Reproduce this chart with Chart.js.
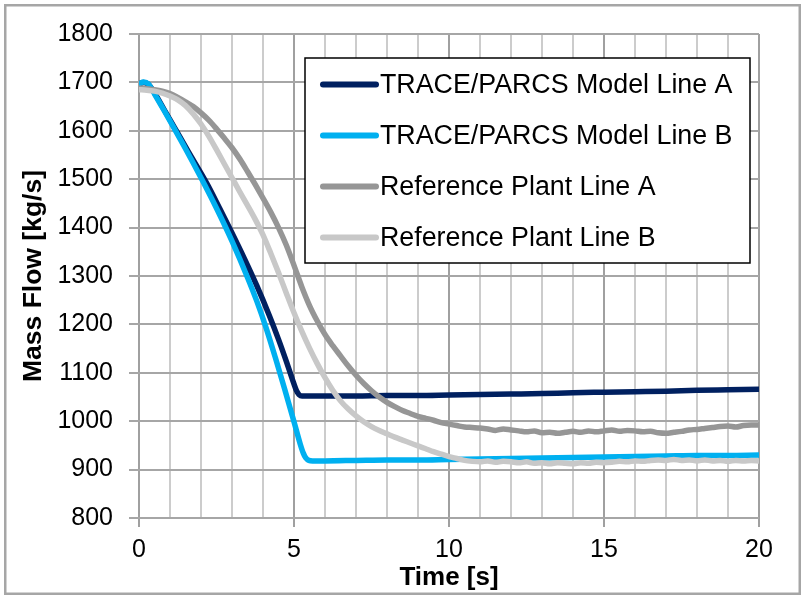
<!DOCTYPE html>
<html>
<head>
<meta charset="utf-8">
<script src="https://cdn.jsdelivr.net/npm/chart.js@4.4.1/dist/chart.umd.min.js"></script>
<style>
  html, body { margin: 0; padding: 0; background: #ffffff; }
  canvas { display: block; }
</style>
</head>
<body>
<canvas id="flowChart" width="807" height="598" style="width:807px;height:598px"></canvas>
<script>
// Series labels (legend order)
const seriesNames = [
  'TRACE/PARCS Model Line A',
  'TRACE/PARCS Model Line B',
  'Reference Plant Line A',
  'Reference Plant Line B'
];

// Axis labels
const xTitle = 'Time [s]';
const yTitle = 'Mass Flow [kg/s]';
const xLabelTicks = [0, 5, 10, 15, 20];

// TRACE/PARCS model, line A
const modelATime = [0, 0.15, 0.3, 0.52, 0.8, 1.15, 1.6, 2.2, 2.6, 3.0, 3.4, 3.8, 4.2, 4.5, 4.75, 4.95, 5.08, 5.16, 5.26, 5.4,
  6, 7, 8, 9, 10, 11, 12, 13, 14, 15, 16, 17, 18, 19, 20];
const modelAFlow = [1697, 1700, 1696, 1676, 1645, 1606, 1556, 1490, 1440, 1389, 1336, 1280, 1219, 1169, 1124, 1086, 1063, 1055, 1052, 1052,
  1052, 1052, 1053, 1053, 1054, 1055, 1056, 1057, 1059, 1060, 1061, 1062, 1064, 1065, 1066];

// TRACE/PARCS model, line B
const modelBTime = [0, 0.15, 0.3, 0.52, 0.8, 1.1, 1.5, 2.0, 2.5, 3.0, 3.5, 3.8, 4.1, 4.4, 4.7, 5.0, 5.2, 5.3, 5.38, 5.48, 5.6,
  6, 7, 8, 9, 10, 11, 12, 13, 14, 15, 16, 17, 18, 19, 20];
const modelBFlow = [1697, 1701, 1697, 1674, 1643, 1609, 1563, 1503, 1440, 1372, 1297, 1248, 1193, 1131, 1066, 999, 953, 934, 924, 919, 918,
  918, 919, 920, 920, 921, 922, 923, 924, 925, 926, 927, 928, 929, 929, 930];

// Reference plant measurements, sampled every 0.25 s
const plantTime = [0, 0.25, 0.5, 0.75, 1, 1.25, 1.5, 1.75, 2, 2.25, 2.5, 2.75, 3, 3.25, 3.5, 3.75, 4, 4.25, 4.5, 4.75,
  5, 5.25, 5.5, 5.75, 6, 6.25, 6.5, 6.75, 7, 7.25, 7.5, 7.75, 8, 8.25, 8.5, 8.75, 9, 9.25, 9.5, 9.75,
  10, 10.25, 10.5, 10.75, 11, 11.25, 11.5, 11.75, 12, 12.25, 12.5, 12.75, 13, 13.25, 13.5, 13.75, 14, 14.25, 14.5, 14.75,
  15, 15.25, 15.5, 15.75, 16, 16.25, 16.5, 16.75, 17, 17.25, 17.5, 17.75, 18, 18.25, 18.5, 18.75, 19, 19.25, 19.5, 19.75, 20];

const plantAFlow = [1688, 1687, 1685, 1682, 1677, 1669, 1660, 1650, 1637, 1622, 1604, 1585, 1565, 1542, 1516, 1489, 1461, 1432, 1400, 1364,
  1322, 1278, 1239, 1207, 1179, 1156, 1135, 1114, 1095, 1078, 1063, 1050, 1039, 1030, 1022, 1016, 1010, 1006, 1002, 997,
  994, 991, 988, 987, 986, 984, 981, 984, 982, 980, 978, 980, 976, 977, 975, 977, 979, 977, 980, 978,
  980, 982, 979, 981, 980, 978, 979, 976, 975, 977, 979, 982, 983, 985, 987, 989, 990, 988, 991, 992, 992];

const plantBFlow = [1685, 1684, 1682, 1678, 1672, 1664, 1652, 1635, 1614, 1589, 1561, 1532, 1503, 1474, 1446, 1417, 1385, 1347, 1307, 1265,
  1224, 1186, 1151, 1119, 1090, 1064, 1042, 1025, 1011, 999, 989, 981, 974, 967, 961, 955, 949, 943, 937, 932,
  927, 923, 919, 917, 916, 918, 915, 917, 916, 914, 916, 913, 914, 912, 914, 913, 912, 914, 913, 915,
  914, 915, 917, 916, 918, 917, 919, 920, 919, 921, 919, 920, 918, 920, 918, 919, 917, 919, 918, 919, 918];

const seriesColors = ['#002060', '#00B0F0', '#969696', '#C8C8C8'];

function toPoints(xs, ys) {
  return xs.map((x, i) => ({ x: x, y: ys[i] }));
}

const FONT = '"Liberation Sans", Arial, sans-serif';

// White page with a grey frame around the whole chart
const framePlugin = {
  id: 'frame',
  beforeDraw(chart) {
    const ctx = chart.ctx;
    ctx.save();
    ctx.fillStyle = '#ffffff';
    ctx.fillRect(0, 0, chart.width, chart.height);
    ctx.strokeStyle = '#a6a6a6';
    ctx.lineWidth = 2.5;
    ctx.strokeRect(5.25, 5.25, 794.5, 588.5);
    ctx.restore();
  }
};

// Boxed legend inside the plot area
const boxLegendPlugin = {
  id: 'boxLegend',
  afterDraw(chart) {
    const ctx = chart.ctx;
    const box = { x: 305, y: 58, w: 445, h: 205 };
    ctx.save();
    ctx.fillStyle = '#ffffff';
    ctx.fillRect(box.x, box.y, box.w, box.h);
    ctx.strokeStyle = '#000000';
    ctx.lineWidth = 1.5;
    ctx.strokeRect(box.x, box.y, box.w, box.h);
    ctx.font = '26.8px ' + FONT;
    ctx.textBaseline = 'middle';
    ctx.textAlign = 'left';
    chart.data.datasets.forEach((ds, i) => {
      const cy = 84.5 + i * 51;
      ctx.strokeStyle = ds.borderColor;
      ctx.lineWidth = 6;
      ctx.lineCap = 'round';
      ctx.beginPath();
      ctx.moveTo(323, cy);
      ctx.lineTo(376, cy);
      ctx.stroke();
      ctx.fillStyle = '#000000';
      ctx.fillText(ds.label, 380, cy + 1);
    });
    ctx.restore();
  }
};

const seriesData = [
  toPoints(modelATime, modelAFlow),
  toPoints(modelBTime, modelBFlow),
  toPoints(plantTime, plantAFlow),
  toPoints(plantTime, plantBFlow)
];

const datasets = seriesNames.map((name, i) => ({
  label: name,
  data: seriesData[i],
  borderColor: seriesColors[i],
  backgroundColor: seriesColors[i],
  borderWidth: 5.5,
  pointRadius: 0,
  fill: false,
  cubicInterpolationMode: 'monotone',
  borderCapStyle: 'round',
  borderJoinStyle: 'round',
  order: seriesNames.length - i
}));

const isMajor = (ctx) => ctx.tick && xLabelTicks.includes(ctx.tick.value);

new Chart(document.getElementById('flowChart'), {
  type: 'line',
  data: { datasets: datasets },
  plugins: [framePlugin, boxLegendPlugin],
  options: {
    responsive: false,
    animation: false,
    devicePixelRatio: 1,
    layout: { padding: { top: 34, right: 48, left: 0, bottom: 0 } },
    plugins: {
      legend: { display: false },
      tooltip: { enabled: false }
    },
    scales: {
      x: {
        type: 'linear',
        min: 0,
        max: 20,
        afterFit(scale) { scale.height = 80; },
        border: { display: false },
        grid: {
          color: (ctx) => isMajor(ctx) ? '#a0a0a0' : '#cccccc',
          lineWidth: 2,
          tickLength: 9,
          tickColor: (ctx) => isMajor(ctx) ? '#a0a0a0' : 'rgba(0,0,0,0)'
        },
        ticks: {
          stepSize: 1,
          autoSkip: false,
          maxRotation: 0,
          padding: 8,
          color: '#000000',
          font: { family: FONT, size: 25 },
          callback: (v) => xLabelTicks.includes(v) ? String(v) : ''
        },
        title: {
          display: true,
          text: xTitle,
          color: '#000000',
          font: { family: FONT, size: 26, weight: 'bold' },
          padding: { top: 0, bottom: 5 }
        }
      },
      y: {
        type: 'linear',
        min: 800,
        max: 1800,
        afterFit(scale) { scale.width = 139; },
        border: { display: false },
        grid: {
          color: '#a6a6a6',
          lineWidth: 2,
          tickLength: 10,
          tickColor: '#a6a6a6'
        },
        ticks: {
          stepSize: 100,
          padding: 16,
          color: '#000000',
          font: { family: FONT, size: 25 },
          callback: (v) => String(v)
        },
        title: {
          display: true,
          text: yTitle,
          color: '#000000',
          font: { family: FONT, size: 26.5, weight: 'bold' },
          padding: { top: 18, bottom: 0 }
        }
      }
    }
  }
});
</script>
</body>
</html>
